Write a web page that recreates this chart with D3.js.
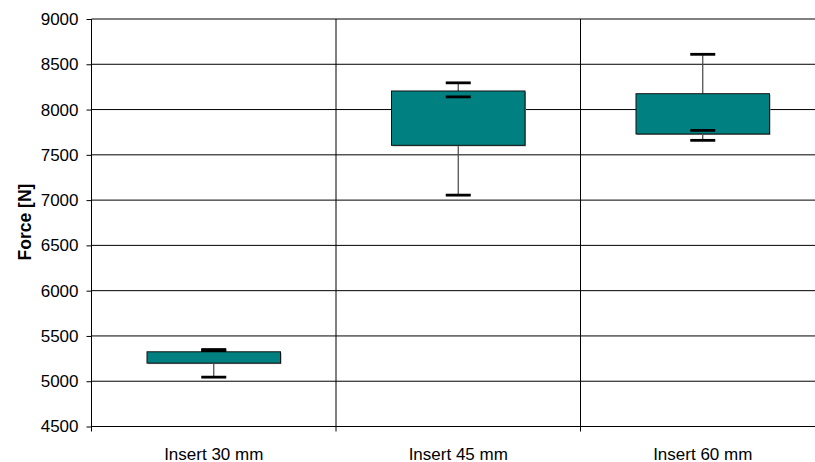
<!DOCTYPE html>
<html>
<head>
<meta charset="utf-8">
<script src="https://cdn.jsdelivr.net/npm/d3@7"></script>
<style>
  html, body { margin: 0; padding: 0; background: #fff; }
  svg { display: block; font-family: "Liberation Sans", Arial, sans-serif; }
</style>
</head>
<body>
<svg id="chart" width="815" height="462"></svg>
<script>
// ---- data ----
const categories = ["Insert 30 mm", "Insert 45 mm", "Insert 60 mm"];
const minValues  = [5045, 7055, 7660];
const q1Values   = [5200, 7605, 7730];
const q3Values   = [5325, 8205, 8175];
const maxValues  = [5350, 8295, 8610];
const markValues = [5338, 8140, 7770];
const yTicks = [4500, 5000, 5500, 6000, 6500, 7000, 7500, 8000, 8500, 9000];
const yTitle = "Force [N]";

(function () {
const svg = d3.select("#chart");
const pLeft = 91.5, pRight = 825, pTop = 19, pBottom = 426.5;

const x = d3.scaleBand().domain(categories).range([pLeft, pRight]).paddingInner(0).paddingOuter(0);
const y = d3.scaleLinear().domain([4500, 9000]).range([pBottom, pTop]);

const rows = categories.map((c, i) => ({
  cat: c, min: minValues[i], q1: q1Values[i], q3: q3Values[i], max: maxValues[i], mark: markValues[i]
}));

// horizontal gridlines
svg.append("g").selectAll("line").data(yTicks).join("line")
  .attr("x1", pLeft).attr("x2", 815)
  .attr("y1", d => y(d)).attr("y2", d => y(d))
  .attr("stroke", "#000").attr("stroke-width", 1);

// vertical category separators (gridlines + ticks below axis)
const seps = categories.slice(1).map(c => x(c));
svg.append("g").selectAll("line").data(seps).join("line")
  .attr("x1", d => d).attr("x2", d => d)
  .attr("y1", pTop).attr("y2", pBottom + 5)
  .attr("stroke", "#000").attr("stroke-width", 1);

// y axis via d3
const yAxis = d3.axisLeft(y).tickValues(yTicks).tickSize(5).tickPadding(8).tickFormat(d3.format("d"));
const gy = svg.append("g").attr("transform", `translate(${pLeft},0)`).call(yAxis);
gy.select(".domain").attr("d", `M0,${pBottom + 5}V${pTop}`).attr("stroke", "#000");
gy.selectAll(".tick line").attr("stroke", "#000");
gy.selectAll(".tick text").attr("font-size", 17).attr("fill", "#000")
  .attr("font-family", "'Liberation Sans', Arial, sans-serif");

// x axis labels
svg.append("g").selectAll("text").data(categories).join("text")
  .attr("x", d => x(d) + x.bandwidth() / 2)
  .attr("y", pBottom + 33)
  .attr("text-anchor", "middle")
  .attr("font-size", 17)
  .attr("fill", "#000")
  .text(d => d);

// y title
svg.append("text")
  .attr("transform", `translate(31,222) rotate(-90)`)
  .attr("text-anchor", "middle")
  .attr("font-size", 17.5)
  .attr("font-weight", "bold")
  .attr("fill", "#000")
  .text(yTitle);

const boxW = x.bandwidth() * 0.546;
const capW = 25;
const cx = d => x(d.cat) + x.bandwidth() / 2;

const g = svg.append("g");
// whiskers
g.selectAll("line.whisker").data(rows).join("line")
  .attr("class", "whisker")
  .attr("x1", cx).attr("x2", cx)
  .attr("y1", d => y(d.max)).attr("y2", d => y(d.min))
  .attr("stroke", "#444").attr("stroke-width", 1.2);

// box shadow
g.selectAll("rect.shadow").data(rows).join("rect")
  .attr("class", "shadow")
  .attr("x", d => cx(d) - boxW / 2 + 1)
  .attr("y", d => y(d.q3) + 1)
  .attr("width", boxW)
  .attr("height", d => y(d.q1) - y(d.q3))
  .attr("fill", "#9a9a9a");

// boxes
g.selectAll("rect.box").data(rows).join("rect")
  .attr("class", "box")
  .attr("x", d => cx(d) - boxW / 2)
  .attr("y", d => y(d.q3))
  .attr("width", boxW)
  .attr("height", d => y(d.q1) - y(d.q3))
  .attr("fill", "#008080")
  .attr("stroke", "#111").attr("stroke-width", 1);

// caps
const capKeys = ["max", "mark", "min"];
rows.forEach(r => {
  capKeys.forEach(k => {
    g.append("line")
      .attr("x1", cx(r) - capW / 2).attr("x2", cx(r) + capW / 2)
      .attr("y1", y(r[k])).attr("y2", y(r[k]))
      .attr("stroke", "#000").attr("stroke-width", 2.8);
  });
});
})();
</script>
</body>
</html>
